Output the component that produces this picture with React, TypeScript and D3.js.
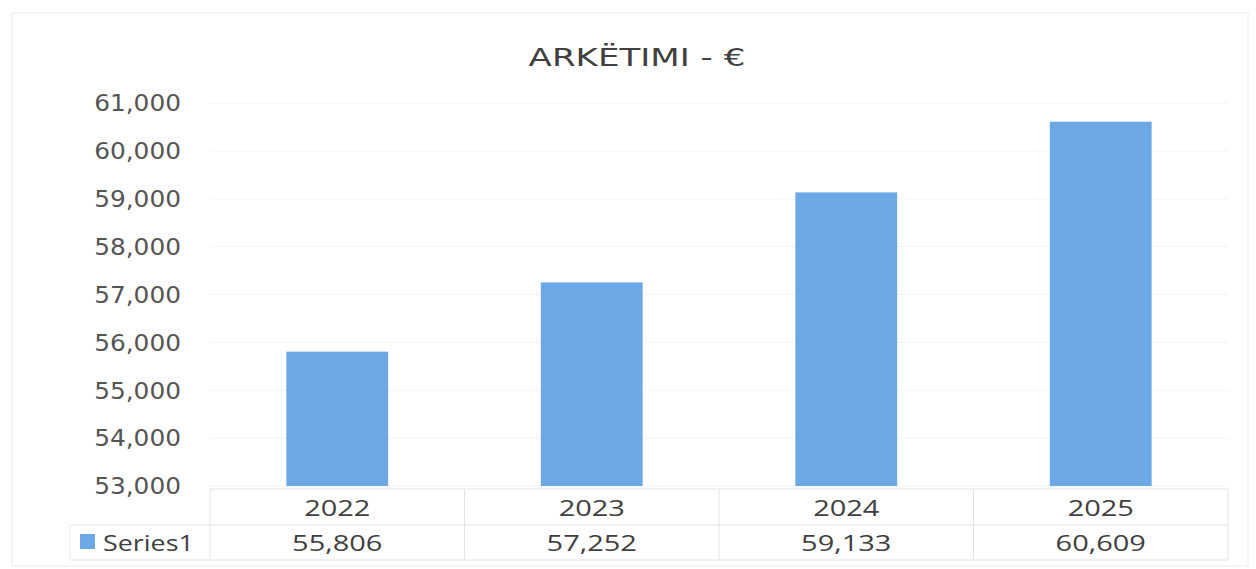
import React from "react";
import * as d3 from "d3";

const title = "ARKËTIMI - €";
const categories = ["2022", "2023", "2024", "2025"];
const values = [55806, 57252, 59133, 60609];
const yTicks = [53000, 54000, 55000, 56000, 57000, 58000, 59000, 60000, 61000];
const seriesName = "Series1";

function SText(props: { x: number; y: number; s: number; size: number; anchor?: string; family: string; fill?: string; children: React.ReactNode; dy?: string }) {
  const { x, y, s, size, anchor, family, fill, children, dy } = props;
  return (
    <text transform={`translate(${x},${y}) scale(${s},1)`} textAnchor={anchor || "start"} dy={dy} fontFamily={family} fontSize={size} fill={fill || "#404040"}>
      {children}
    </text>
  );
}

export default function App() {
  const W = 1256, H = 569;
  const left = 210, right = 1228, top = 103, bottom = 486;
  const x = d3.scaleBand<string>().domain(categories).range([left, right]).paddingInner(0.6).paddingOuter(0.3);
  const xb = d3.scaleBand<string>().domain(categories).range([left, right]);
  const y = d3.scaleLinear().domain([53000, 61000]).range([bottom, top]);
  const fmt = d3.format(",");
  const tableTop = 489, rowMid = 525, tableBottom = 560;
  const grid = "#e3e3e3";
  const color = "#6ca8e6";
  const axisFont = "DejaVu Sans, Verdana, sans-serif";
  const tableFont = "Open Sans, Liberation Sans, sans-serif";
  return (
    <svg width={W} height={H} style={{ position: "absolute", left: 0, top: 0, background: "#fff" }}>
      <rect x={12} y={13} width={1236} height={553} fill="#fff" stroke="#ececec" strokeWidth={1} />
      <SText x={637} y={66} s={1.42} size={24} anchor="middle" family={axisFont} fill="#404040">{title}</SText>
      {yTicks.map((t) => (
        <g key={t}>
          <line x1={left} x2={right} y1={y(t)} y2={y(t)} stroke="#f3f3f3" strokeWidth={1} />
          <SText x={181} y={y(t)} dy="0.36em" s={1.08} size={23} anchor="end" family={axisFont} fill="#555">{fmt(t)}</SText>
        </g>
      ))}
      {categories.map((c, i) => (
        <rect key={c} x={x(c)} y={y(values[i])} width={x.bandwidth()} height={y(53000) - y(values[i])} fill={color} />
      ))}
      {/* data table */}
      <line x1={left} x2={right} y1={tableTop} y2={tableTop} stroke={grid} />
      <line x1={70} x2={right} y1={rowMid} y2={rowMid} stroke={grid} />
      <line x1={70} x2={right} y1={tableBottom} y2={tableBottom} stroke={grid} />
      {[...categories.map((c) => xb(c) as number), right].map((v, i) => (
        <line key={i} x1={v} x2={v} y1={tableTop} y2={tableBottom} stroke={grid} />
      ))}
      <line x1={70} x2={70} y1={rowMid} y2={tableBottom} stroke="#f0f0f0" />
      {categories.map((c, i) => (
        <g key={c}>
          <SText x={(xb(c) as number) + xb.bandwidth() / 2} y={516} s={1.38} size={21} anchor="middle" family={tableFont}>{c}</SText>
          <SText x={(xb(c) as number) + xb.bandwidth() / 2} y={551} s={1.38} size={21} anchor="middle" family={tableFont}>{fmt(values[i])}</SText>
        </g>
      ))}
      <rect x={80} y={534} width={15} height={15} fill={color} />
      <SText x={103} y={551} s={1.28} size={21} family={tableFont}>{seriesName}</SText>
    </svg>
  );
}
